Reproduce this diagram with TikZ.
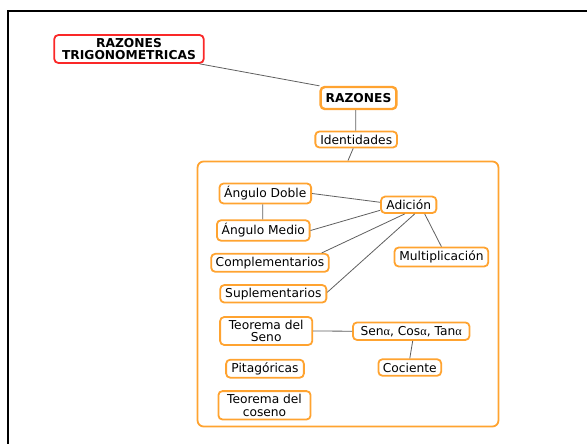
\documentclass[tikz,border=0pt]{standalone}
\usepackage{fontspec}
\setmainfont{DejaVu Sans}
\newfontfamily\grkfont{Liberation Serif}
\newcommand\alfa{{\grkfont α}}
\definecolor{mapOrange}{RGB}{255,163,48}
\definecolor{mapRed}{RGB}{250,40,40}
\definecolor{linkGray}{RGB}{95,95,95}
\begin{document}
\begin{tikzpicture}[x=1bp,y=-1bp,
  every node/.style={font=\fontsize{12.3}{12.7}\selectfont, align=center, inner sep=0pt},
  concept/.style={draw=mapOrange, line width=1.8bp, rounded corners=4bp, fill=white},
  rootbox/.style={draw=mapRed, line width=1.8bp, rounded corners=4bp, fill=white, font=\fontsize{12.3}{12.7}\selectfont\bfseries},
  mainbox/.style={draw=mapOrange, line width=2.4bp, rounded corners=4bp, fill=white, font=\fontsize{12.3}{12.7}\selectfont\bfseries},
  groupbox/.style={draw=mapOrange, line width=1.8bp, rounded corners=6bp},
  link/.style={draw=linkGray, line width=0.8bp}]
\useasboundingbox (0,0) rectangle (587,444);
% page frame (only its top and left edges fall inside the page)
\draw[line width=2.4bp] (8,446) -- (8,11) -- (589,11);

% group container
\node[groupbox, minimum width=302, minimum height=266] (grp) at (348,294) {};

% concepts
\node[rootbox, minimum width=150, minimum height=28] (root) at (129,49) {RAZONES\\TRIGONOMETRICAS};
\node[mainbox, minimum width=76, minimum height=22] (raz) at (358.5,98) {RAZONES};
\node[concept, minimum width=82, minimum height=16] (ide) at (356.2,139.5) {Identidades};
\node[concept, minimum width=92, minimum height=20] (dob) at (265.3,193.5) {Ángulo Doble};
\node[concept, minimum width=93, minimum height=20.5] (med) at (263.3,230.5) {Ángulo Medio};
\node[concept, minimum width=55.5, minimum height=16.5] (adi) at (408.7,204.8) {Adición};
\node[concept, minimum width=118, minimum height=18] (com) at (270,262.8) {Complementarios};
\node[concept, minimum width=94, minimum height=19] (mul) at (441.4,257) {Multiplicación};
\node[concept, minimum width=106.5, minimum height=17.5] (sup) at (273.3,293.8) {Suplementarios};
\node[concept, minimum width=92.5, minimum height=28] (tds) at (266.2,331) {Teorema del\\Seno};
\node[concept, minimum width=117, minimum height=17.5] (sct) at (411.2,331.2) {Sen\alfa, Cos\alfa, Tan\alfa};
\node[concept, minimum width=78, minimum height=18] (pit) at (265,368.7) {Pitagóricas};
\node[concept, minimum width=63, minimum height=16.5] (coc) at (409.8,367.5) {Cociente};
\node[concept, minimum width=92.5, minimum height=28.5] (tdc) at (264.5,405.3) {Teorema del\\coseno};

% connectors
\path[link] ([xshift=-5bp]root.south east) -- (raz.north west);
\path[link] ([xshift=-2.8bp]raz.south) -- ([xshift=-0.5bp]ide.north);
\path[link] ([xshift=-3bp]ide.south) -- (grp.north);
\path[link] (dob.east) -- ([yshift=2.5bp]adi.west);
\path[link] ([xshift=-2.6bp]dob.south) -- ([xshift=-0.6bp]med.north);
\path[link] (med.east) -- ([yshift=-5.5bp]adi.west);
\path[link] ([xshift=-8bp]com.north east) -- ([xshift=-4bp]adi.south);
\path[link] ([yshift=1.5bp]sup.east) -- ([xshift=6bp]adi.south);
\path[link] ([xshift=16bp]adi.south) -- (mul.north);
\path[link] (tds.east) -- (sct.west);
\path[link] ([xshift=1.5bp]sct.south) -- (coc.north);
\end{tikzpicture}
\end{document}
